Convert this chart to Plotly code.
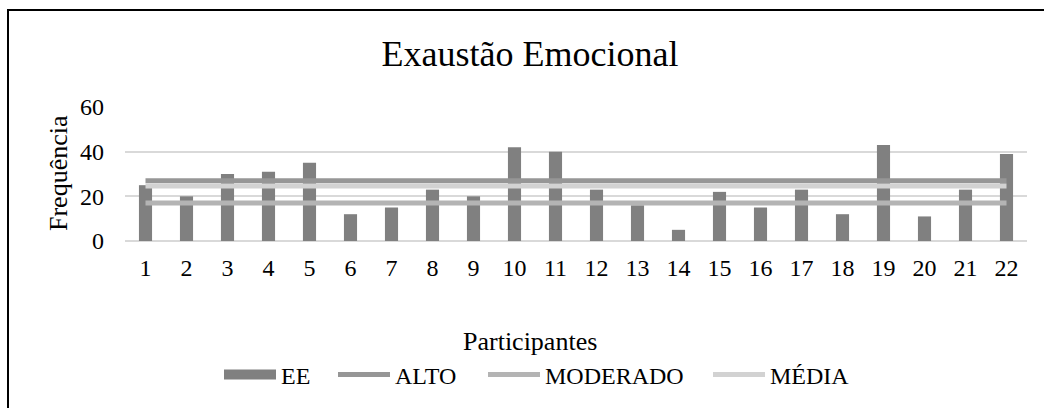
import plotly.graph_objects as go

participantes = ["1", "2", "3", "4", "5", "6", "7", "8", "9", "10", "11",
                 "12", "13", "14", "15", "16", "17", "18", "19", "20", "21", "22"]
ee = [25, 20, 30, 31, 35, 12, 15, 23, 20, 42, 40,
      23, 16, 5, 22, 15, 23, 12, 43, 11, 23, 39]
alto = [27, 27, 27, 27, 27, 27, 27, 27, 27, 27, 27,
        27, 27, 27, 27, 27, 27, 27, 27, 27, 27, 27]
moderado = [17, 17, 17, 17, 17, 17, 17, 17, 17, 17, 17,
            17, 17, 17, 17, 17, 17, 17, 17, 17, 17, 17]
media = [24.6, 24.6, 24.6, 24.6, 24.6, 24.6, 24.6, 24.6, 24.6, 24.6, 24.6,
         24.6, 24.6, 24.6, 24.6, 24.6, 24.6, 24.6, 24.6, 24.6, 24.6, 24.6]
y_ticks = [0, 20, 40, 60]

FONT = "Liberation Serif, Times New Roman, serif"
C_EE = "#808080"
C_ALTO = "#969696"
C_MOD = "#b4b4b4"
C_MED = "#d2d2d2"

W, H = 1044, 408
L, R, T, B = 125, 17, 107, 167
PW, PH = W - L - R, H - T - B


def px_x(px):
    return (px - L) / PW


def px_y(py):
    return (H - B - py) / PH


fig = go.Figure()
fig.add_trace(go.Bar(x=participantes, y=ee, name="EE", marker_color=C_EE,
                     marker_line_width=0, showlegend=False))
# legend entry for EE as a wide block
fig.add_trace(go.Scatter(x=[None], y=[None], mode="lines", name="EE",
                         line=dict(color=C_EE, width=12), legend="legend"))
fig.add_trace(go.Scatter(x=participantes, y=alto, mode="lines", name="ALTO",
                         line=dict(color=C_ALTO, width=5), legend="legend2"))
fig.add_trace(go.Scatter(x=participantes, y=moderado, mode="lines", name="MODERADO",
                         line=dict(color=C_MOD, width=5), legend="legend3"))
fig.add_trace(go.Scatter(x=participantes, y=media, mode="lines", name="MÉDIA",
                         line=dict(color=C_MED, width=5), legend="legend4"))


def leg(px_left):
    return dict(orientation="h", x=px_x(px_left), xanchor="left",
                y=px_y(375), yanchor="middle",
                font=dict(family=FONT, size=24, color="#000000"),
                bgcolor="rgba(0,0,0,0)", itemwidth=52, tracegroupgap=0)


fig.update_layout(
    width=W, height=H,
    margin=dict(l=L, r=R, t=T, b=B, autoexpand=False),
    paper_bgcolor="white", plot_bgcolor="white",
    font=dict(family=FONT, color="#000000", size=24),
    bargap=0.68,
    title=dict(text="Exaustão Emocional", x=530 / W, xanchor="center",
               y=1 - 53 / H, yanchor="middle",
               font=dict(family=FONT, size=36, color="#000000")),
    showlegend=True,
    legend=leg(219),
    legend2=leg(333),
    legend3=leg(483),
    legend4=leg(708),
    xaxis=dict(type="category", showgrid=False, showline=False, ticks="",
               tickfont=dict(family=FONT, size=24), ticklabelstandoff=10,
               zeroline=False),
    yaxis=dict(range=[0, 60], tickvals=y_ticks, showgrid=True,
               gridcolor="#d9d9d9", gridwidth=1.5, zeroline=True,
               zerolinecolor="#d9d9d9", zerolinewidth=1.5, showline=False,
               ticks="", tickfont=dict(family=FONT, size=24),
               ticklabelstandoff=20),
    annotations=[
        dict(text="Participantes", xref="paper", yref="paper",
             x=px_x(530), y=px_y(341), xanchor="center", yanchor="middle",
             showarrow=False, font=dict(family=FONT, size=26, color="#000000")),
        dict(text="Frequência", xref="paper", yref="paper",
             x=px_x(58), y=px_y(173), xanchor="center", yanchor="middle",
             textangle=-90, showarrow=False,
             font=dict(family=FONT, size=26, color="#000000")),
    ],
    shapes=[
        dict(type="rect", xref="paper", yref="paper",
             x0=px_x(8), x1=px_x(1060), y0=px_y(420), y1=px_y(10),
             line=dict(color="#000000", width=2), fillcolor="rgba(0,0,0,0)",
             layer="above"),
    ],
)

fig.write_html("out.html",
               config={"displayModeBar": False},
               post_script="document.body.style.margin='0';"
                           "document.body.style.overflow='hidden';")
